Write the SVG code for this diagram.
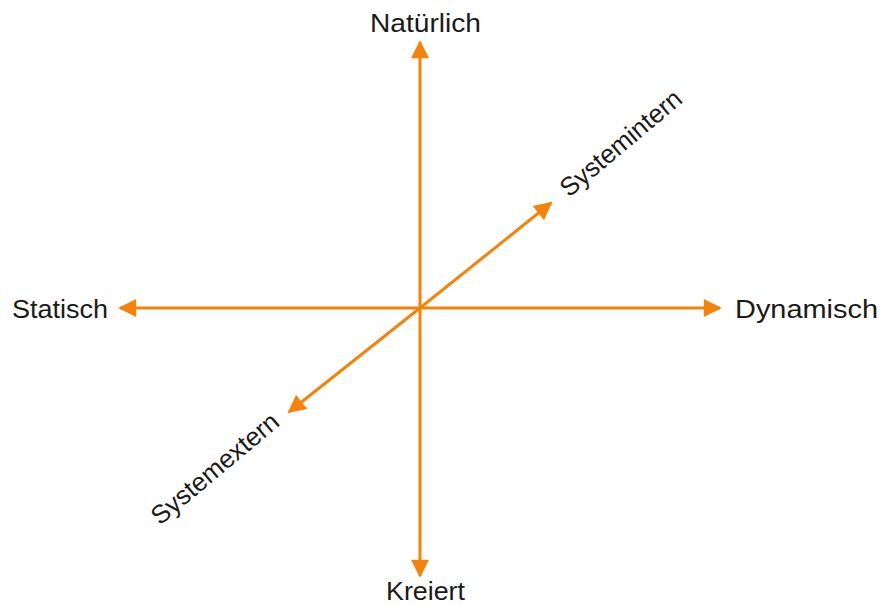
<svg xmlns="http://www.w3.org/2000/svg" width="880" height="606" viewBox="0 0 880 606">
<style>
.ax{stroke:#F5820A;stroke-width:3;fill:none;marker-end:url(#ah)}
.t{font-family:"Liberation Sans",Arial,sans-serif;font-size:26px;fill:#1a1a1a}
</style>
<defs>
<marker id="ah" viewBox="0 0 10 10" refX="9" refY="5" markerWidth="6.5" markerHeight="6" orient="auto" markerUnits="strokeWidth">
<path d="M0,0 L10,5 L0,10 Z" fill="#F5820A"/>
</marker>
</defs>
<rect width="880" height="606" fill="#fff"/>
<g id="connectors">
<line class="ax" x1="420" y1="308" x2="420" y2="42"/>
<line class="ax" x1="420" y1="308" x2="420" y2="576"/>
<line class="ax" x1="420" y1="308" x2="120" y2="308"/>
<line class="ax" x1="420" y1="308" x2="720" y2="308"/>
<line class="ax" x1="420" y1="308" x2="551" y2="203"/>
<line class="ax" x1="420" y1="308" x2="289" y2="412"/>
</g>
<g id="natuerlich"><text class="t" x="370" y="32" textLength="111" lengthAdjust="spacingAndGlyphs">Natürlich</text></g>
<g id="kreiert"><text class="t" x="386" y="600" textLength="79" lengthAdjust="spacingAndGlyphs">Kreiert</text></g>
<g id="statisch"><text class="t" x="12" y="318" textLength="96" lengthAdjust="spacingAndGlyphs">Statisch</text></g>
<g id="dynamisch"><text class="t" x="735" y="318" textLength="143" lengthAdjust="spacingAndGlyphs">Dynamisch</text></g>
<g id="systemintern"><text class="t" transform="translate(569,198) rotate(-40)" textLength="150" lengthAdjust="spacingAndGlyphs">Systemintern</text></g>
<g id="systemextern"><text class="t" transform="translate(160,526) rotate(-40)" textLength="158" lengthAdjust="spacingAndGlyphs">Systemextern</text></g>
</svg>
